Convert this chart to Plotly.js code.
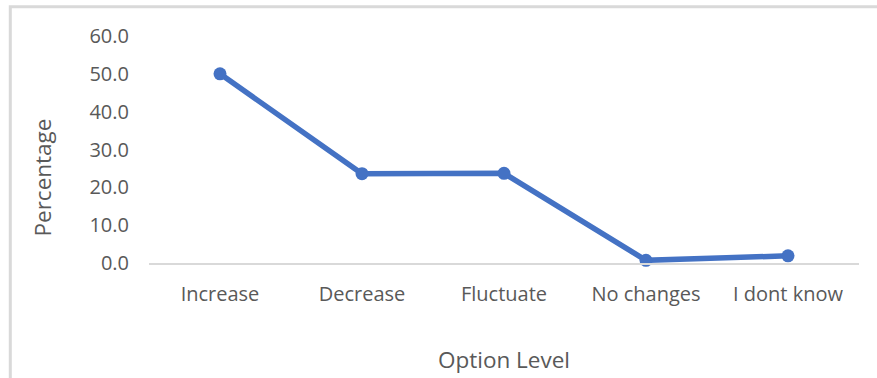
<!DOCTYPE html>
<html>
<head>
<meta charset="utf-8">
<script src="https://cdn.plot.ly/plotly-3.0.1.min.js"></script>
<style>
  html, body { margin: 0; padding: 0; background: #ffffff; }
  #chart { width: 877px; height: 378px; }
</style>
</head>
<body>
<div id="chart"></div>
<script>
// ---- data ----
const categories = ["Increase", "Decrease", "Fluctuate", "No changes", "I dont know"];
const percentages = [50.0, 23.6, 23.7, 0.7, 1.9];
const yTickValues = [0, 10, 20, 30, 40, 50, 60];
const xTitle = "Option Level";
const yTitle = "Percentage";

// ---- layout helpers (pixel -> paper) ----
const W = 877, H = 378;
const M = { l: 149, r: 18, t: 36, b: 115 };
const PW = W - M.l - M.r, PH = H - M.t - M.b;
const px = x => (x - M.l) / PW;
const py = y => (H - M.b - y) / PH;

const textColor = "#595959";
const font = "'Open Sans', 'Noto Sans', sans-serif";

const trace = {
  type: "scatter",
  mode: "lines+markers",
  x: categories,
  y: percentages,
  line: { color: "#4472C4", width: 5.5 },
  marker: { color: "#4472C4", size: 13 },
  cliponaxis: false,
  hoverinfo: "x+y"
};

const layout = {
  width: W, height: H,
  margin: M,
  paper_bgcolor: "#ffffff",
  plot_bgcolor: "#ffffff",
  showlegend: false,
  font: { family: font, color: textColor, size: 20 },
  xaxis: {
    type: "category",
    range: [-0.5, categories.length - 0.5],
    showgrid: false,
    zeroline: false,
    showline: true,
    linecolor: "#d9d9d9",
    linewidth: 1.5,
    ticks: "",
    ticklabelstandoff: 12,
    tickfont: { family: font, size: 20, color: textColor },
    title: { text: xTitle, font: { family: font, size: 22.5, color: textColor }, standoff: 46 }
  },
  yaxis: {
    range: [0, 60],
    tickvals: yTickValues,
    tickformat: ".1f",
    showgrid: false,
    zeroline: false,
    showline: false,
    ticks: "",
    ticklabelstandoff: 19,
    tickfont: { family: font, size: 20, color: textColor }
  },
  annotations: [{
    text: yTitle,
    xref: "paper", yref: "paper",
    x: px(42), y: py(177.5),
    xanchor: "center", yanchor: "middle",
    textangle: -90,
    showarrow: false,
    font: { family: font, size: 22.5, color: textColor }
  }],
  shapes: [{
    type: "rect",
    xref: "paper", yref: "paper",
    x0: px(10.3), x1: px(882),
    y0: py(400), y1: py(6.7),
    line: { color: "#d9d9d9", width: 3 },
    fillcolor: "rgba(0,0,0,0)",
    layer: "below"
  }]
};

Plotly.newPlot("chart", [trace], layout, { staticPlot: true, displayModeBar: false });
</script>
</body>
</html>
